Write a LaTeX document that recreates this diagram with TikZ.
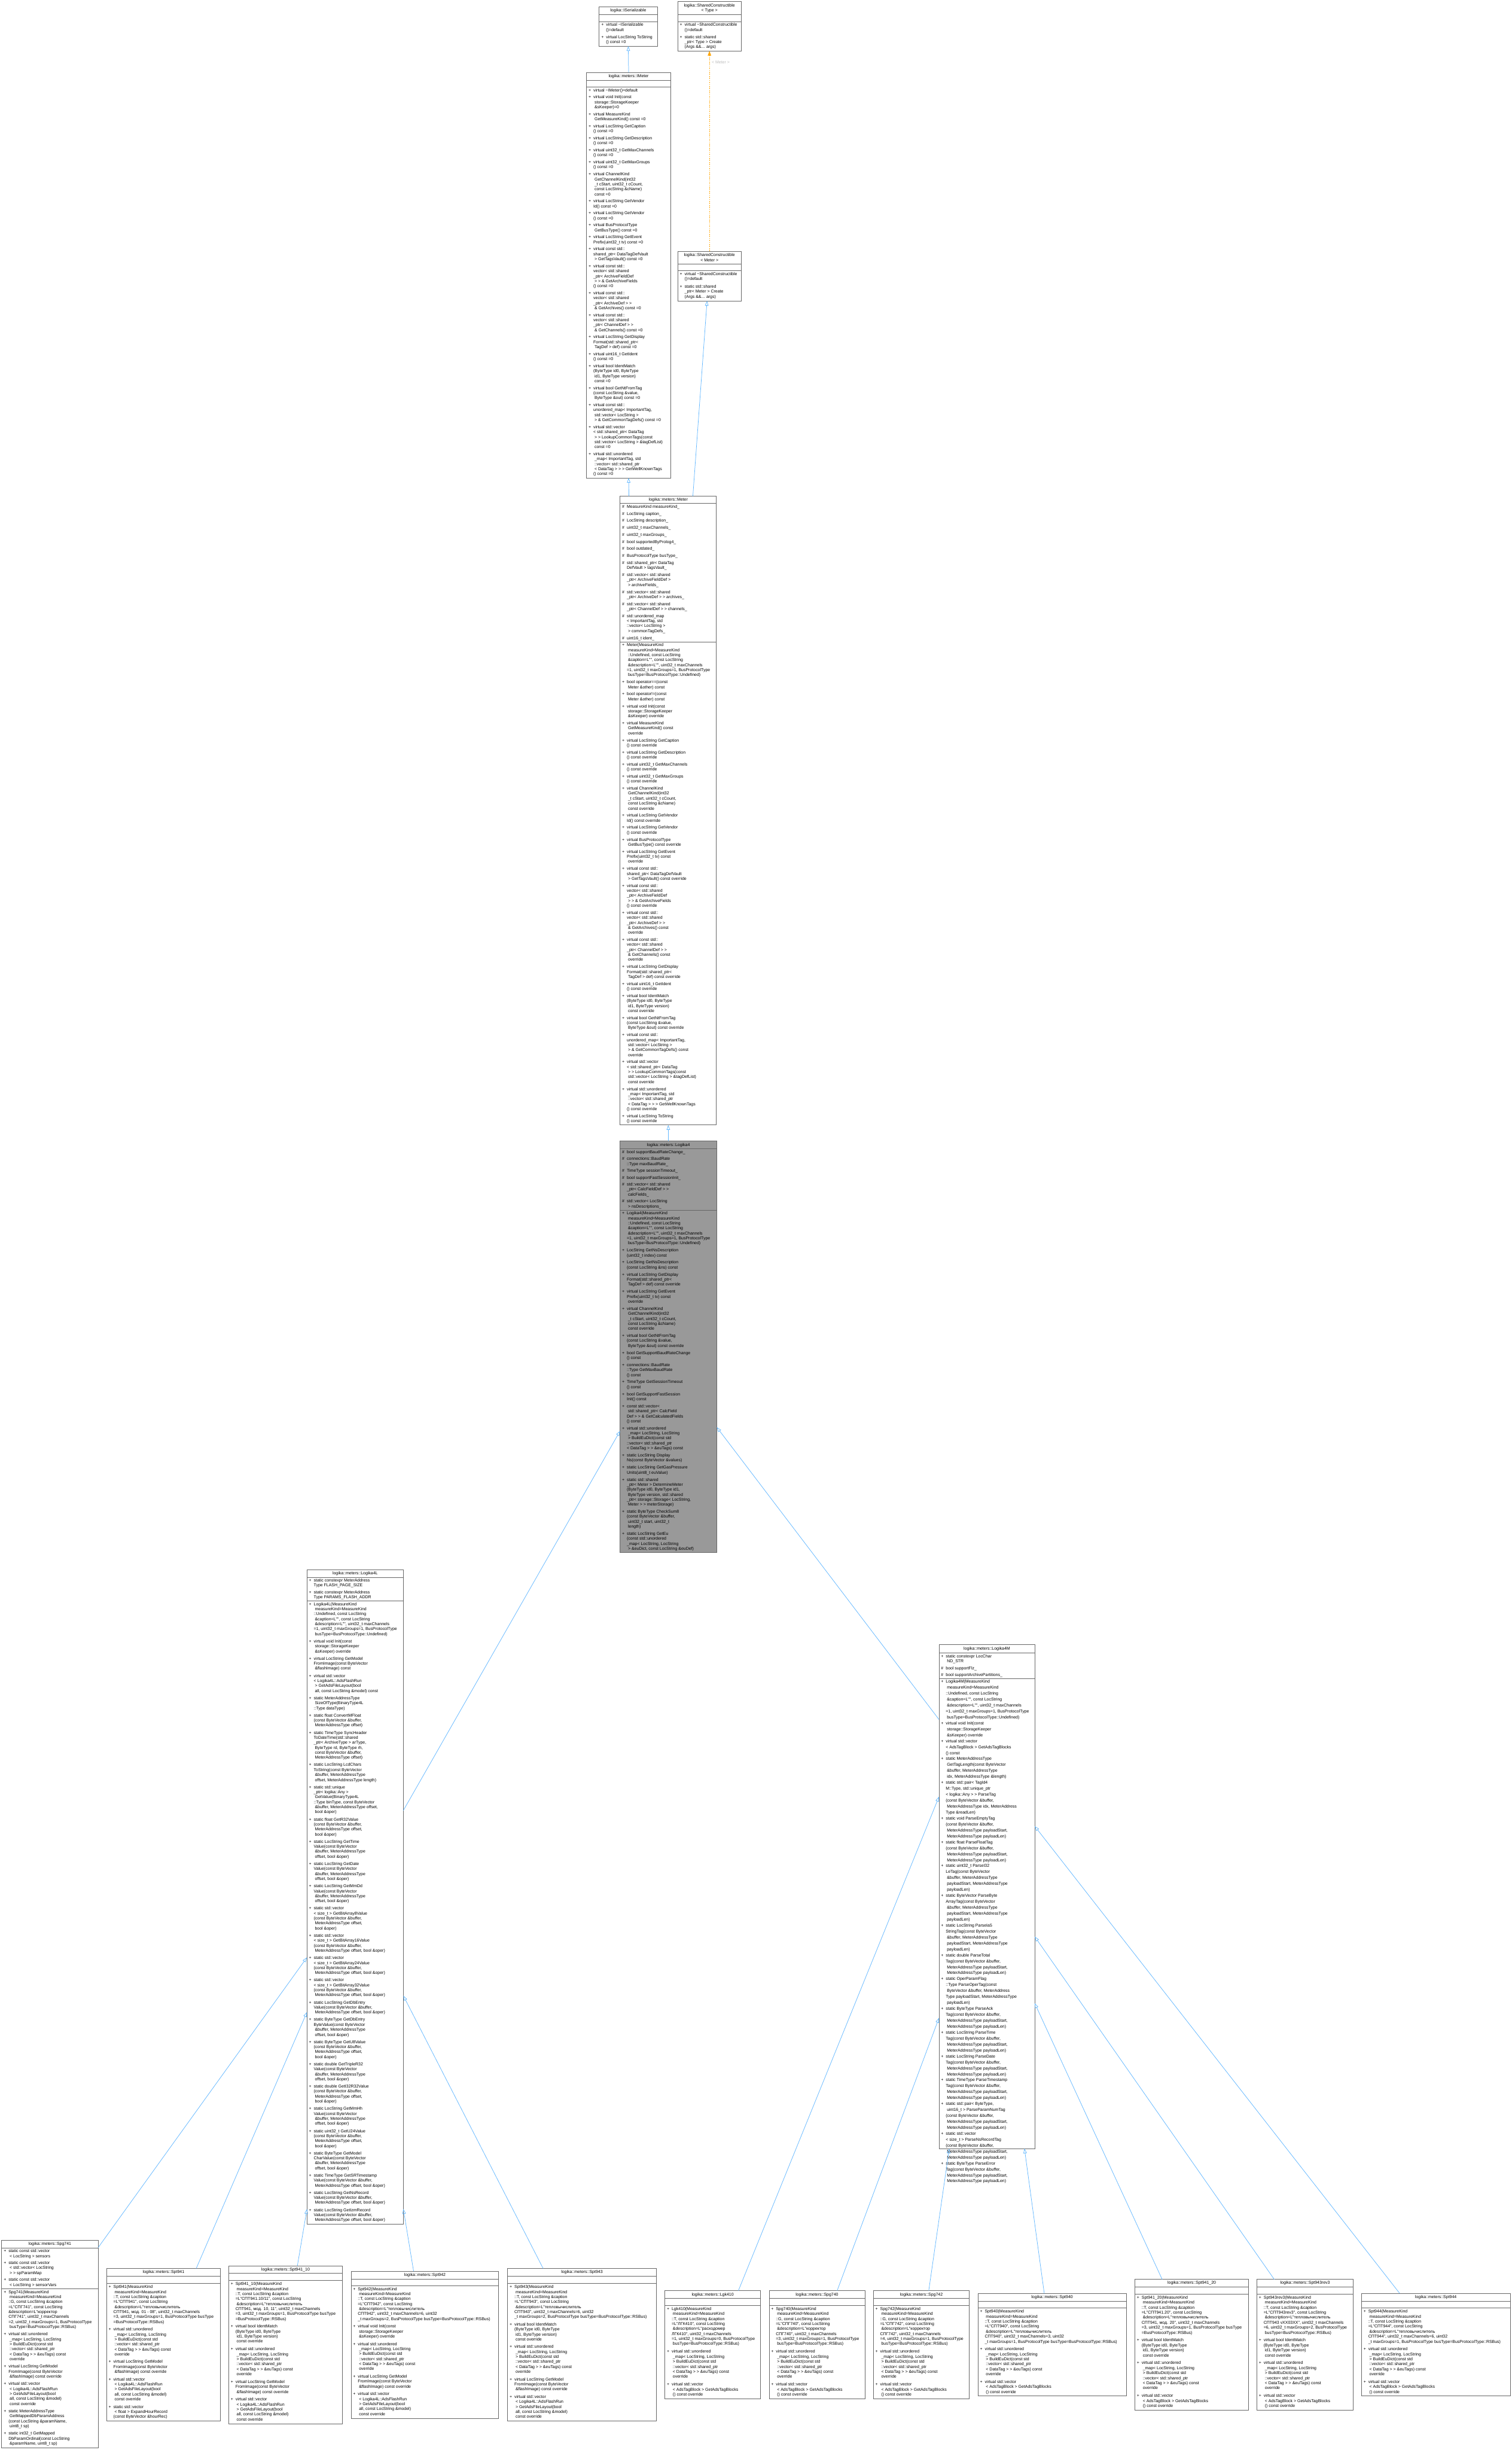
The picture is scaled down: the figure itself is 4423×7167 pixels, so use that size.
\documentclass[tikz,border=0pt]{standalone}
\usepackage{fontspec}
\newfontfamily\dfont{Liberation Sans}
\usetikzlibrary{arrows.meta}
\definecolor{edgeblue}{HTML}{63B8FF}
\definecolor{boxgray}{HTML}{666666}
\definecolor{hlfill}{HTML}{999999}
\definecolor{tmplorange}{HTML}{FFA500}
\definecolor{lblgray}{HTML}{BEBEBE}
\newcommand\bfnt{\dfont\fontsize{12.2}{14.6}\selectfont}
\newcommand\bfntw{\dfont\fontsize{12.2}{17.4}\selectfont}
\newcommand\ent[2]{\hbox{\makebox[14pt][l]{#1}\begin{tabular}[t]{@{}l@{}}#2\end{tabular}}\vskip 0pt plus 1fil\relax}
\newcommand\ubox[6][ubox]{\node[#1, minimum width=#5pt, minimum height=#6pt] (#2) at (#3,#4) {};}
\newcommand\usep[3]{\draw[sepl] (#1,#2) -- ++(#3,0);}
\newcommand\utitle[6]{\node[font=\bfnt, align=center, inner sep=0pt] (#1) at ({#2+#4/2},{#3+#5/2}) {#6};}
\newcommand\sect[6]{\node[anchor=north west, inner sep=0pt, outer sep=0pt, font=#2] (#1) at (#3,#4) {\vbox to #5pt{\offinterlineskip\vskip 0pt plus .5fil\relax #6\vskip 0pt plus -.5fil\relax}};}
\newcommand\eBuildEu{\ent{+}{virtual std::unordered\\\ \_map< LocString, LocString\\\ > BuildEuDict(const std\\\ ::vector< std::shared\_ptr\\\ < DataTag > > \&euTags) const\\\ override}}
\newcommand\eGetModel{\ent{+}{virtual LocString GetModel\\FromImage(const ByteVector\\\ \&flashImage) const override}}
\newcommand\eAdsFile{\ent{+}{virtual std::vector\\\ < Logika4L::AdsFlashRun\\\ > GetAdsFileLayout(bool\\\ all, const LocString \&model)\\\ const override}}
\newcommand\eAdsTag{\ent{+}{virtual std::vector\\\ < AdsTagBlock > GetAdsTagBlocks\\\ () const override}}
\newcommand\eIdent{\ent{+}{virtual bool IdentMatch\\(ByteType id0, ByteType\\\ id1, ByteType version)\\\ const override}}
\newcommand\bvo{(const ByteVector \&buffer,\\\ MeterAddressType offset,\\\ bool \&oper)}
\newcommand\bvv{Value(const ByteVector\\\ \&buffer, MeterAddressType\\\ offset, bool \&oper)}
\newcommand\bvl{(const ByteVector \&buffer,\\\ MeterAddressType offset, bool \&oper)}
\newcommand\bvw{Value(const ByteVector \&buffer,\\\ MeterAddressType offset, bool \&oper)}
\newcommand\pls{(const ByteVector \&buffer,\\\ MeterAddressType payloadStart,\\\ MeterAddressType payloadLen)}
\newcommand\plt{Tag(const ByteVector \&buffer,\\\ MeterAddressType payloadStart,\\\ MeterAddressType payloadLen)}
\newcommand\plb{(const ByteVector\\\ \&buffer, MeterAddressType\\\ payloadStart, MeterAddressType\\\ payloadLen)}
\tikzset{
  ubox/.style={rectangle, draw=boxgray, line width=1.4pt, fill=white, inner sep=0pt, outer sep=0pt, anchor=north west},
  hlbox/.style={ubox, fill=hlfill},
  sepl/.style={draw=boxgray, line width=1.4pt},
  inh/.style={draw=edgeblue, line width=1.3pt, -{Triangle[open, length=14pt, width=10pt, line width=1.3pt]}},
  tmpl/.style={draw=tmplorange, line width=1.3pt, dashed, -{Triangle[length=14pt, width=10pt]}},
  lbl/.style={font=\bfnt, text=lblgray, inner sep=0pt}
}
\begin{document}
\begin{tikzpicture}[x=1pt,y=-1pt]
\useasboundingbox (0,0) rectangle (4423,7167);
\fill[white] (0,0) rectangle (4423,7167);

% ---------- ISerializable
\ubox{ISer}{1753}{20}{170}{115}
\usep{1753}{43}{170}\usep{1753}{63}{170}
\utitle{ISerT}{1753}{20}{170}{23}{logika::ISerializable}
\sect{ISerM}{\bfnt}{1759}{63}{72}{\ent{+}{virtual \textasciitilde ISerializable\\()=default}\ent{+}{virtual LocString ToString\\() const =0}}

% ---------- SharedConstructible<Type>
\ubox{SCT}{1983}{5}{185}{144}
\usep{1983}{43}{185}\usep{1983}{63}{185}
\utitle{SCTT}{1983}{5}{185}{38}{logika::SharedConstructible\\< Type >}
\sect{SCTM}{\bfnt}{1989}{63}{86}{\ent{+}{virtual \textasciitilde SharedConstructible\\()=default}\ent{+}{static std::shared\\\_ptr< Type > Create\\(Args \&\&... args)}}

% ---------- IMeter
\ubox{IMeter}{1716}{212}{246}{1186}
\usep{1716}{235}{246}\usep{1716}{255}{246}
\utitle{IMeterT}{1716}{212}{246}{23}{logika::meters::IMeter}
\sect{IMeterM}{\bfnt}{1722}{255}{1143}{%
\ent{+}{virtual \textasciitilde IMeter()=default}
\ent{+}{virtual void Init(const\\\ storage::StorageKeeper\\\ \&sKeeper)=0}
\ent{+}{virtual MeasureKind\\\ GetMeasureKind() const =0}
\ent{+}{virtual LocString GetCaption\\() const =0}
\ent{+}{virtual LocString GetDescription\\() const =0}
\ent{+}{virtual uint32\_t GetMaxChannels\\() const =0}
\ent{+}{virtual uint32\_t GetMaxGroups\\() const =0}
\ent{+}{virtual ChannelKind\\\ GetChannelKind(int32\\\ \_t cStart, uint32\_t cCount,\\\ const LocString \&cName)\\\ const =0}
\ent{+}{virtual LocString GetVendor\\Id() const =0}
\ent{+}{virtual LocString GetVendor\\() const =0}
\ent{+}{virtual BusProtocolType\\\ GetBusType() const =0}
\ent{+}{virtual LocString GetEvent\\Prefix(uint32\_t tv) const =0}
\ent{+}{virtual const std::\\shared\_ptr< DataTagDefVault\\\ > GetTagsVault() const =0}
\ent{+}{virtual const std::\\vector< std::shared\\\_ptr< ArchiveFieldDef\\\ > > \& GetArchiveFields\\() const =0}
\ent{+}{virtual const std::\\vector< std::shared\\\_ptr< ArchiveDef > >\\\ \& GetArchives() const =0}
\ent{+}{virtual const std::\\vector< std::shared\\\_ptr< ChannelDef > >\\\ \& GetChannels() const =0}
\ent{+}{virtual LocString GetDisplay\\Format(std::shared\_ptr<\\\ TagDef > def) const =0}
\ent{+}{virtual uint16\_t GetIdent\\() const =0}
\ent{+}{virtual bool IdentMatch\\(ByteType id0, ByteType\\\ id1, ByteType version)\\\ const =0}
\ent{+}{virtual bool GetNtFromTag\\(const LocString \&value,\\\ ByteType \&out) const =0}
\ent{+}{virtual const std::\\unordered\_map< ImportantTag,\\\ std::vector< LocString >\\\ > \& GetCommonTagDefs() const =0}
\ent{+}{virtual std::vector\\< std::shared\_ptr< DataTag\\\ > > LookupCommonTags(const\\\ std::vector< LocString > \&tagDefList)\\\ const =0}
\ent{+}{virtual std::unordered\\\ \_map< ImportantTag, std\\\ ::vector< std::shared\_ptr\\\ < DataTag > > > GetWellKnownTags\\() const =0}}

% ---------- SharedConstructible<Meter>
\ubox{SCM}{1983}{735}{185}{145}
\usep{1983}{772}{185}\usep{1983}{792}{185}
\utitle{SCMT}{1983}{735}{185}{37}{logika::SharedConstructible\\< Meter >}
\sect{SCMM}{\bfnt}{1989}{792}{88}{\ent{+}{virtual \textasciitilde SharedConstructible\\()=default}\ent{+}{static std::shared\\\_ptr< Meter > Create\\(Args \&\&... args)}}

% ---------- Meter
\ubox{Meter}{1814}{1451}{282}{1840}
\usep{1814}{1473}{282}\usep{1814}{1878}{282}
\utitle{MeterT}{1814}{1451}{282}{22}{logika::meters::Meter}
\sect{MeterA}{\bfnt}{1820}{1473}{405}{%
\ent{\#}{MeasureKind measureKind\_}
\ent{\#}{LocString caption\_}
\ent{\#}{LocString description\_}
\ent{\#}{uint32\_t maxChannels\_}
\ent{\#}{uint32\_t maxGroups\_}
\ent{\#}{bool supportedByProlog4\_}
\ent{\#}{bool outdated\_}
\ent{\#}{BusProtocolType busType\_}
\ent{\#}{std::shared\_ptr< DataTag\\DefVault > tagsVault\_}
\ent{\#}{std::vector< std::shared\\\_ptr< ArchiveFieldDef >\\\ > archiveFields\_}
\ent{\#}{std::vector< std::shared\\\_ptr< ArchiveDef > > archives\_}
\ent{\#}{std::vector< std::shared\\\_ptr< ChannelDef > > channels\_}
\ent{\#}{std::unordered\_map\\< ImportantTag, std\\::vector< LocString >\\\ > commonTagDefs\_}
\ent{\#}{uint16\_t ident\_}}
\sect{MeterM}{\bfnt}{1820}{1878}{1413}{%
\ent{+}{Meter(MeasureKind\\\ measureKind=MeasureKind\\\ ::Undefined, const LocString\\\ \&caption=L"", const LocString\\\ \&description=L"", uint32\_t maxChannels\\=1, uint32\_t maxGroups=1, BusProtocolType\\\ busType=BusProtocolType::Undefined)}
\ent{+}{bool operator==(const\\\ Meter \&other) const}
\ent{+}{bool operator!=(const\\\ Meter \&other) const}
\ent{+}{virtual void Init(const\\\ storage::StorageKeeper\\\ \&sKeeper) override}
\ent{+}{virtual MeasureKind\\\ GetMeasureKind() const\\\ override}
\ent{+}{virtual LocString GetCaption\\() const override}
\ent{+}{virtual LocString GetDescription\\() const override}
\ent{+}{virtual uint32\_t GetMaxChannels\\() const override}
\ent{+}{virtual uint32\_t GetMaxGroups\\() const override}
\ent{+}{virtual ChannelKind\\\ GetChannelKind(int32\\\ \_t cStart, uint32\_t cCount,\\\ const LocString \&cName)\\\ const override}
\ent{+}{virtual LocString GetVendor\\Id() const override}
\ent{+}{virtual LocString GetVendor\\() const override}
\ent{+}{virtual BusProtocolType\\\ GetBusType() const override}
\ent{+}{virtual LocString GetEvent\\Prefix(uint32\_t tv) const\\\ override}
\ent{+}{virtual const std::\\shared\_ptr< DataTagDefVault\\\ > GetTagsVault() const override}
\ent{+}{virtual const std::\\vector< std::shared\\\_ptr< ArchiveFieldDef\\\ > > \& GetArchiveFields\\() const override}
\ent{+}{virtual const std::\\vector< std::shared\\\_ptr< ArchiveDef > >\\\ \& GetArchives() const\\\ override}
\ent{+}{virtual const std::\\vector< std::shared\\\_ptr< ChannelDef > >\\\ \& GetChannels() const\\\ override}
\ent{+}{virtual LocString GetDisplay\\Format(std::shared\_ptr<\\\ TagDef > def) const override}
\ent{+}{virtual uint16\_t GetIdent\\() const override}
\ent{+}{virtual bool IdentMatch\\(ByteType id0, ByteType\\\ id1, ByteType version)\\\ const override}
\ent{+}{virtual bool GetNtFromTag\\(const LocString \&value,\\\ ByteType \&out) const override}
\ent{+}{virtual const std::\\unordered\_map< ImportantTag,\\\ std::vector< LocString >\\\ > \& GetCommonTagDefs() const\\\ override}
\ent{+}{virtual std::vector\\< std::shared\_ptr< DataTag\\\ > > LookupCommonTags(const\\\ std::vector< LocString > \&tagDefList)\\\ const override}
\ent{+}{virtual std::unordered\\\ \_map< ImportantTag, std\\\ ::vector< std::shared\_ptr\\\ < DataTag > > > GetWellKnownTags\\() const override}
\ent{+}{virtual LocString ToString\\() const override}}

% ---------- Logika4 (highlighted)
\ubox[hlbox]{L4}{1814}{3338}{283}{1204}
\usep{1814}{3361}{283}\usep{1814}{3540}{283}
\utitle{L4T}{1814}{3338}{283}{23}{logika::meters::Logika4}
\sect{L4A}{\bfnt}{1820}{3361}{179}{%
\ent{\#}{bool supportBaudRateChange\_}
\ent{\#}{connections::BaudRate\\::Type maxBaudRate\_}
\ent{\#}{TimeType sessionTimeout\_}
\ent{\#}{bool supportFastSessionInit\_}
\ent{\#}{std::vector< std::shared\\\_ptr< CalcFieldDef > >\\\ calcFields\_}
\ent{\#}{std::vector< LocString\\\ > nsDescriptions\_}}
\sect{L4M}{\bfnt}{1820}{3540}{1002}{%
\ent{+}{Logika4(MeasureKind\\\ measureKind=MeasureKind\\\ ::Undefined, const LocString\\\ \&caption=L"", const LocString\\\ \&description=L"", uint32\_t maxChannels\\=1, uint32\_t maxGroups=1, BusProtocolType\\\ busType=BusProtocolType::Undefined)}
\ent{+}{LocString GetNsDescription\\(uint32\_t index) const}
\ent{+}{LocString GetNsDescription\\(const LocString \&ns) const}
\ent{+}{virtual LocString GetDisplay\\Format(std::shared\_ptr<\\\ TagDef > def) const override}
\ent{+}{virtual LocString GetEvent\\Prefix(uint32\_t tv) const\\\ override}
\ent{+}{virtual ChannelKind\\\ GetChannelKind(int32\\\ \_t cStart, uint32\_t cCount,\\\ const LocString \&cName)\\\ const override}
\ent{+}{virtual bool GetNtFromTag\\(const LocString \&value,\\\ ByteType \&out) const override}
\ent{+}{bool GetSupportBaudRateChange\\() const}
\ent{+}{connections::BaudRate\\::Type GetMaxBaudRate\\() const}
\ent{+}{TimeType GetSessionTimeout\\() const}
\ent{+}{bool GetSupportFastSession\\Init() const}
\ent{+}{const std::vector<\\\ std::shared\_ptr< CalcField\\Def > > \& GetCalculatedFields\\() const}
\ent{+}{virtual std::unordered\\\ \_map< LocString, LocString\\\ > BuildEuDict(const std\\::vector< std::shared\_ptr\\< DataTag > > \&euTags) const}
\ent{+}{static LocString Display\\Ns(const ByteVector \&values)}
\ent{+}{static LocString GetGasPressure\\Units(uint8\_t euValue)}
\ent{+}{static std::shared\\\_ptr< Meter > DetermineMeter\\(ByteType id0, ByteType id1,\\\ ByteType version, std::shared\\\_ptr< storage::Storage< LocString,\\\ Meter > > meterStorage)}
\ent{+}{static ByteType CheckSum8\\(const ByteVector \&buffer,\\\ uint32\_t start, uint32\_t\\\ length)}
\ent{+}{static LocString GetEu\\(const std::unordered\\\_map< LocString, LocString\\\ > \&euDict, const LocString \&euDef)}}

% ---------- Logika4L
\ubox{LL}{898}{4592}{282}{1914}
\usep{898}{4614}{282}\usep{898}{4683}{282}
\utitle{LLT}{898}{4592}{282}{22}{logika::meters::Logika4L}
\sect{LLA}{\bfnt}{904}{4614}{69}{%
\ent{+}{static constexpr MeterAddress\\Type FLASH\_PAGE\_SIZE}
\ent{+}{static constexpr MeterAddress\\Type PARAMS\_FLASH\_ADDR}}
\sect{LLM}{\bfnt}{904}{4683}{1823}{%
\ent{+}{Logika4L(MeasureKind\\\ measureKind=MeasureKind\\::Undefined, const LocString\\\ \&caption=L"", const LocString\\\ \&description=L"", uint32\_t maxChannels\\=1, uint32\_t maxGroups=1, BusProtocolType\\\ busType=BusProtocolType::Undefined)}
\ent{+}{virtual void Init(const\\\ storage::StorageKeeper\\\ \&sKeeper) override}
\ent{+}{virtual LocString GetModel\\FromImage(const ByteVector\\\ \&flashImage) const}
\ent{+}{virtual std::vector\\< Logika4L::AdsFlashRun\\\ > GetAdsFileLayout(bool\\\ all, const LocString \&model) const}
\ent{+}{static MeterAddressType\\\ SizeOfType(BinaryType4L\\::Type dataType)}
\ent{+}{static float ConvertMFloat\\(const ByteVector \&buffer,\\\ MeterAddressType offset)}
\ent{+}{static TimeType SyncHeader\\ToDateTime(std::shared\\\_ptr< ArchiveType > arType,\\\ ByteType rd, ByteType rh,\\\ const ByteVector \&buffer,\\\ MeterAddressType offset)}
\ent{+}{static LocString LcdChars\\ToString(const ByteVector\\\ \&buffer, MeterAddressType\\\ offset, MeterAddressType length)}
\ent{+}{static std::unique\\\_ptr< logika::Any >\\\ GetValue(BinaryType4L\\::Type binType, const ByteVector\\\ \&buffer, MeterAddressType offset,\\\ bool \&oper)}
\ent{+}{static float GetR32Value\\\bvo}
\ent{+}{static LocString GetTime\\\bvv}
\ent{+}{static LocString GetDate\\\bvv}
\ent{+}{static LocString GetMmDd\\\bvv}
\ent{+}{static std::vector\\< size\_t > GetBitArray8Value\\\bvo}
\ent{+}{static std::vector\\< size\_t > GetBitArray16Value\\\bvl}
\ent{+}{static std::vector\\< size\_t > GetBitArray24Value\\\bvl}
\ent{+}{static std::vector\\< size\_t > GetBitArray32Value\\\bvl}
\ent{+}{static LocString GetDbEntry\\\bvw}
\ent{+}{static ByteType GetDbEntry\\Byte\bvv}
\ent{+}{static ByteType GetU8Value\\\bvo}
\ent{+}{static double GetTripleR32\\\bvv}
\ent{+}{static double GetI32R32Value\\\bvo}
\ent{+}{static LocString GetMmHh\\\bvv}
\ent{+}{static uint32\_t GetU24Value\\\bvo}
\ent{+}{static ByteType GetModel\\Char\bvv}
\ent{+}{static TimeType GetSRTimestamp\\\bvw}
\ent{+}{static LocString GetNsRecord\\\bvw}
\ent{+}{static LocString GetIzmRecord\\\bvw}}

% ---------- Logika4M
\ubox{LWS}{2747}{4811}{280}{1474}
\usep{2747}{4836}{280}\usep{2747}{4911}{280}
\utitle{LWST}{2747}{4811}{280}{25}{logika::meters::Logika4M}
\sect{LWSA}{\bfnt}{2753}{4836}{75}{%
\ent{+}{static constexpr LocChar\\\ ND\_STR}
\ent{\#}{bool supportFlz\_}
\ent{\#}{bool supportArchivePartitions\_}}
\sect{LWSM}{\bfntw}{2753}{4911}{1374}{%
\ent{+}{Logika4M(MeasureKind\\\ measureKind=MeasureKind\\::Undefined, const LocString\\\ \&caption=L"", const LocString\\\ \&description=L"", uint32\_t maxChannels\\=1, uint32\_t maxGroups=1, BusProtocolType\\\ busType=BusProtocolType::Undefined)}
\ent{+}{virtual void Init(const\\\ storage::StorageKeeper\\\ \&sKeeper) override}
\ent{+}{virtual std::vector\\< AdsTagBlock > GetAdsTagBlocks\\() const}
\ent{+}{static MeterAddressType\\\ GetTagLength(const ByteVector\\\ \&buffer, MeterAddressType\\\ idx, MeterAddressType \&length)}
\ent{+}{static std::pair< TagId4\\M::Type, std::unique\_ptr\\< logika::Any > > ParseTag\\(const ByteVector \&buffer,\\\ MeterAddressType idx, MeterAddress\\Type \&readLen)}
\ent{+}{static void ParseEmptyTag\\\pls}
\ent{+}{static float ParseFloatTag\\\pls}
\ent{+}{static uint32\_t ParseI32\\LeTag\plb}
\ent{+}{static ByteVector ParseByte\\ArrayTag\plb}
\ent{+}{static LocString ParseIa5\\StringTag\plb}
\ent{+}{static double ParseTotal\\\plt}
\ent{+}{static OperParamFlag\\::Type ParseOperTag(const\\\ ByteVector \&buffer, MeterAddress\\Type payloadStart, MeterAddressType\\\ payloadLen)}
\ent{+}{static ByteType ParseAck\\\plt}
\ent{+}{static LocString ParseTime\\\plt}
\ent{+}{static LocString ParseDate\\\plt}
\ent{+}{static TimeType ParseTimestamp\\\plt}
\ent{+}{static std::pair< ByteType,\\\ uint16\_t > ParseParamNumTag\\\pls}
\ent{+}{static std::vector\\< size\_t > ParseNsRecordTag\\\pls}
\ent{+}{static ByteType ParseError\\\plt}}

% ---------- Spg741
\ubox{Spg741}{5}{6554}{282}{606}
\usep{5}{6576}{282}\usep{5}{6695}{282}
\utitle{Spg741T}{5}{6554}{282}{22}{logika::meters::Spg741}
\sect{Spg741A}{\bfnt}{11}{6576}{119}{%
\ent{+}{static const std::vector\\\ < LocString > sensors}
\ent{+}{static const std::vector\\\ < std::vector< LocString\\\ > > spParamMap}
\ent{+}{static const std::vector\\\ < LocString > sensorVars}}
\sect{Spg741M}{\bfnt}{11}{6695}{465}{%
\ent{+}{Spg741(MeasureKind\\\ measureKind=MeasureKind\\::G, const LocString \&caption\\=L"СПГ741", const LocString\\\&description=L"корректор\\СПГ741", uint32\_t maxChannels\\=2, uint32\_t maxGroups=1, BusProtocolType\\\ busType=BusProtocolType::RSBus)}
\eBuildEu\eGetModel\eAdsFile
\ent{+}{static MeterAddressType\\\ GetMappedDbParamAddress\\(const LocString \&paramName,\\\ uint8\_t sp)}
\ent{+}{static int32\_t GetMapped\\DbParamOrdinal(const LocString\\\ \&paramName, uint8\_t sp)}}

% ---------- Spt941
\ubox{Spt941}{312}{6636}{333}{446}
\usep{312}{6659}{333}\usep{312}{6680}{333}
\utitle{Spt941T}{312}{6636}{333}{23}{logika::meters::Spt941}
\sect{Spt941M}{\bfnt}{318}{6680}{402}{%
\ent{+}{Spt941(MeasureKind\\\ measureKind=MeasureKind\\::T, const LocString \&caption\\=L"СПТ941", const LocString\\\ \&description=L"тепловычислитель\\СПТ941, мод. 01 - 08", uint32\_t maxChannels\\=3, uint32\_t maxGroups=1, BusProtocolType busType\\=BusProtocolType::RSBus)}
\eBuildEu\eGetModel\eAdsFile
\ent{+}{static std::vector\\\ < float > ExpandHourRecord\\(const ByteVector \&hourRec)}}

% ---------- Spt941_10
\ubox{SptA}{669}{6628}{333}{462}
\usep{669}{6650}{333}\usep{669}{6671}{333}
\utitle{SptAT}{669}{6628}{333}{22}{logika::meters::Spt941\_10}
\sect{SptAM}{\bfnt}{675}{6671}{419}{%
\ent{+}{Spt941\_10(MeasureKind\\\ measureKind=MeasureKind\\::T, const LocString \&caption\\=L"СПТ941.10/11", const LocString\\\ \&description=L"тепловычислитель\\СПТ941, мод. 10, 11", uint32\_t maxChannels\\=3, uint32\_t maxGroups=1, BusProtocolType busType\\=BusProtocolType::RSBus)}
\eIdent\eBuildEu\eGetModel\eAdsFile}

% ---------- Spt942
\ubox{Spt942}{1027}{6644}{432}{430}
\usep{1027}{6667}{432}\usep{1027}{6686}{432}
\utitle{Spt942T}{1027}{6644}{432}{23}{logika::meters::Spt942}
\sect{Spt942M}{\bfnt}{1033}{6686}{388}{%
\ent{+}{Spt942(MeasureKind\\\ measureKind=MeasureKind\\::T, const LocString \&caption\\=L"СПТ942", const LocString\\\ \&description=L"тепловычислитель\\СПТ942", uint32\_t maxChannels=6, uint32\\\_t maxGroups=2, BusProtocolType busType=BusProtocolType::RSBus)}
\ent{+}{virtual void Init(const\\\ storage::StorageKeeper\\\ \&sKeeper) override}
\eBuildEu\eGetModel\eAdsFile}

% ---------- Spt943
\ubox{Spt943}{1485}{6636}{435}{446}
\usep{1485}{6659}{435}\usep{1485}{6680}{435}
\utitle{Spt943T}{1485}{6636}{435}{23}{logika::meters::Spt943}
\sect{Spt943M}{\bfnt}{1491}{6680}{402}{%
\ent{+}{Spt943(MeasureKind\\\ measureKind=MeasureKind\\::T, const LocString \&caption\\=L"СПТ943", const LocString\\\ \&description=L"тепловычислитель\\СПТ943", uint32\_t maxChannels=6, uint32\\\_t maxGroups=2, BusProtocolType busType=BusProtocolType::RSBus)}
\eIdent\eBuildEu\eGetModel\eAdsFile}

% ---------- Lgk410
\ubox{Lgk410}{1945}{6701}{280}{316}
\usep{1945}{6724}{280}\usep{1945}{6744}{280}
\utitle{Lgk410T}{1945}{6701}{280}{23}{logika::meters::Lgk410}
\sect{Lgk410M}{\bfnt}{1951}{6744}{273}{%
\ent{+}{Lgk410(MeasureKind\\\ measureKind=MeasureKind\\::T, const LocString \&caption\\=L"ЛГК410", const LocString\\\ \&description=L"расходомер\\ЛГК410", uint32\_t maxChannels\\=1, uint32\_t maxGroups=0, BusProtocolType\\\ busType=BusProtocolType::RSBus)}
\eBuildEu\eAdsTag}

% ---------- Spg740
\ubox{Spg740}{2250}{6701}{280}{316}
\usep{2250}{6724}{280}\usep{2250}{6744}{280}
\utitle{Spg740T}{2250}{6701}{280}{23}{logika::meters::Spg740}
\sect{Spg740M}{\bfnt}{2256}{6744}{273}{%
\ent{+}{Spg740(MeasureKind\\\ measureKind=MeasureKind\\::G, const LocString \&caption\\=L"СПГ740", const LocString\\\ \&description=L"корректор\\СПГ740", uint32\_t maxChannels\\=3, uint32\_t maxGroups=1, BusProtocolType\\\ busType=BusProtocolType::RSBus)}
\eBuildEu\eAdsTag}

% ---------- Spg742
\ubox{Spg742}{2555}{6701}{281}{316}
\usep{2555}{6724}{281}\usep{2555}{6744}{281}
\utitle{Spg742T}{2555}{6701}{281}{23}{logika::meters::Spg742}
\sect{Spg742M}{\bfnt}{2561}{6744}{273}{%
\ent{+}{Spg742(MeasureKind\\\ measureKind=MeasureKind\\::G, const LocString \&caption\\=L"СПГ742", const LocString\\\ \&description=L"корректор\\СПГ742", uint32\_t maxChannels\\=4, uint32\_t maxGroups=1, BusProtocolType\\\ busType=BusProtocolType::RSBus)}
\eBuildEu\eAdsTag}

% ---------- Spt940
\ubox{Spt940}{2861}{6709}{434}{300}
\usep{2861}{6732}{434}\usep{2861}{6752}{434}
\utitle{Spt940T}{2861}{6709}{434}{23}{logika::meters::Spt940}
\sect{Spt940M}{\bfnt}{2867}{6752}{257}{%
\ent{+}{Spt940(MeasureKind\\\ measureKind=MeasureKind\\::T, const LocString \&caption\\=L"СПТ940", const LocString\\\ \&description=L"тепловычислитель\\СПТ940", uint32\_t maxChannels=3, uint32\\\_t maxGroups=1, BusProtocolType busType=BusProtocolType::RSBus)}
\eBuildEu\eAdsTag}

% ---------- Spt941_20
\ubox{SptB}{3320}{6668}{333}{382}
\usep{3320}{6690}{333}\usep{3320}{6711}{333}
\utitle{SptBT}{3320}{6668}{333}{22}{logika::meters::Spt941\_20}
\sect{SptBM}{\bfnt}{3326}{6711}{339}{%
\ent{+}{Spt941\_20(MeasureKind\\\ measureKind=MeasureKind\\::T, const LocString \&caption\\=L"СПТ941.20", const LocString\\\ \&description=L"тепловычислитель\\СПТ941, мод. 20", uint32\_t maxChannels\\=3, uint32\_t maxGroups=1, BusProtocolType busType\\=BusProtocolType::RSBus)}
\eIdent\eBuildEu\eAdsTag}

% ---------- Spt943rev3
\ubox{SptC}{3677}{6668}{282}{382}
\usep{3677}{6690}{282}\usep{3677}{6711}{282}
\utitle{SptCT}{3677}{6668}{282}{22}{logika::meters::Spt943rev3}
\sect{SptCM}{\bfnt}{3683}{6711}{339}{%
\ent{+}{Spt943rev3(MeasureKind\\\ measureKind=MeasureKind\\::T, const LocString \&caption\\=L"СПТ943rev3", const LocString\\\ \&description=L"тепловычислитель\\СПТ943 vXX03XX", uint32\_t maxChannels\\=6, uint32\_t maxGroups=2, BusProtocolType\\\ busType=BusProtocolType::RSBus)}
\eIdent\eBuildEu\eAdsTag}

% ---------- Spt944
\ubox{Spt944}{3983}{6709}{435}{300}
\usep{3983}{6732}{435}\usep{3983}{6752}{435}
\utitle{Spt944T}{3983}{6709}{435}{23}{logika::meters::Spt944}
\sect{Spt944M}{\bfnt}{3989}{6752}{257}{%
\ent{+}{Spt944(MeasureKind\\\ measureKind=MeasureKind\\::T, const LocString \&caption\\=L"СПТ944", const LocString\\\ \&description=L"тепловычислитель\\СПТ944", uint32\_t maxChannels=6, uint32\\\_t maxGroups=1, BusProtocolType busType=BusProtocolType::RSBus)}
\eBuildEu\eAdsTag}

% ---------- connectors
\draw[inh] (IMeter.north) -- (ISer.south);
\draw[tmpl] (SCM.north) -- (SCT.south);
\node[lbl, anchor=west] (tmplLbl) at (2082,182) {< Meter >};
\draw[inh] ([xshift=26pt]Meter.north west) -- (IMeter.south);
\draw[inh] ([xshift=213pt]Meter.north west) -- ([xshift=-7pt]SCM.south);
\draw[inh] (L4.north) -- (Meter.south);
\draw[inh] ([yshift=-704pt]LL.north east) -- ([yshift=-848pt]L4.north west);
\draw[inh] ([yshift=-219pt]LWS.north west) -- ([yshift=-837pt]L4.north east);
\draw[inh] ([yshift=-21pt]Spg741.north east) -- ([yshift=-1134pt]LL.north west);
\draw[inh] ([xshift=262pt]Spt941.north west) -- ([yshift=-1294pt]LL.north west);
\draw[inh] ([xshift=201pt]SptA.north west) -- ([yshift=-1870pt]LL.north west);
\draw[inh] ([xshift=183pt]Spt942.north west) -- ([yshift=-1870pt]LL.north east);
\draw[inh] ([xshift=104pt]Spt943.north west) -- ([yshift=-1246pt]LL.north east);
\draw[inh] ([xshift=215pt]Lgk410.north west) -- ([yshift=-445pt]LWS.north west);
\draw[inh] ([xshift=199pt]Spg740.north west) -- ([yshift=-1092pt]LWS.north west);
\draw[inh] ([xshift=162pt]Spg742.north west) -- ([xshift=30pt]LWS.south west);
\draw[inh] ([xshift=194pt]Spt940.north west) -- ([xshift=250pt]LWS.south west);
\draw[inh] ([xshift=80pt]SptB.north west) -- ([yshift=-1049pt]LWS.north east);
\draw[inh] ([xshift=51pt]SptC.north west) -- ([yshift=-854pt]LWS.north east);
\draw[inh] ([xshift=112pt]Spt944.north west) -- ([yshift=-531pt]LWS.north east);
\end{tikzpicture}
\end{document}
